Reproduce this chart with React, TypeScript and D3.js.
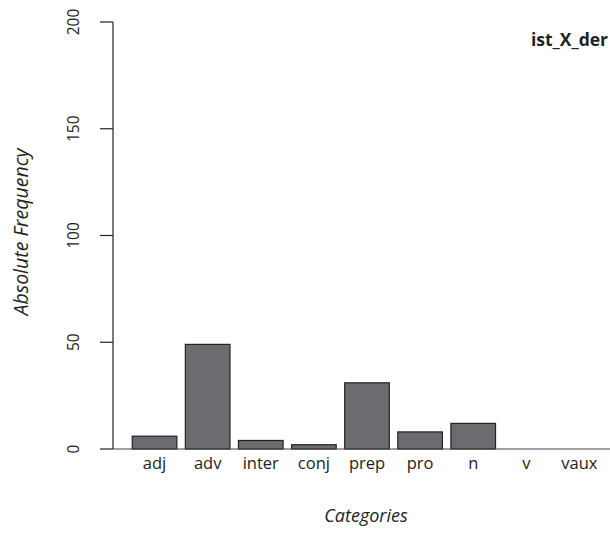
import React from "react";
import * as d3 from "d3";

const categories = ["adj", "adv", "inter", "conj", "prep", "pro", "n", "v", "vaux"];
const values = [6, 49, 4, 2, 31, 8, 12, 0, 0];
const yTicks = [0, 50, 100, 150, 200];
const title = "ist_X_der";

export default function App() {
  const W = 610, H = 556;
  const font = "'Open Sans', 'Noto Sans', sans-serif";
  const x = d3.scaleBand<string>().domain(categories).range([128, 606]).paddingInner(0.16).paddingOuter(0.08);
  const y = d3.scaleLinear().domain([0, 200]).range([449, 22]);
  const axisX = 113;
  return (
    <svg width={W} height={H} style={{ position: "absolute", left: 0, top: 0, background: "#fff" }} fontFamily={font}>
      <line x1={axisX} x2={axisX} y1={y(200)} y2={y(0)} stroke="#222" strokeWidth={1.2} />
      {yTicks.map((t) => (
        <g key={t}>
          <line x1={axisX - 13} x2={axisX} y1={y(t)} y2={y(t)} stroke="#222" strokeWidth={1.2} />
          <text transform={`translate(79,${y(t)}) rotate(-90)`} textAnchor="middle" fontSize={15.5} fill="#222">
            {t}
          </text>
        </g>
      ))}
      {categories.map((c, i) => (
        <rect key={c} x={x(c)} y={y(values[i])} width={x.bandwidth()} height={y(0) - y(values[i])}
          fill="#6b6c70" stroke="#222" strokeWidth={1.2} />
      ))}
      <line x1={axisX} x2={W} y1={y(0)} y2={y(0)} stroke="#444" strokeWidth={1.2} />
      {categories.map((c) => (
        <text key={c} x={(x(c) as number) + x.bandwidth() / 2} y={469} textAnchor="middle" fontSize={16.5} fill="#222">
          {c}
        </text>
      ))}
      <text x={366} y={522} textAnchor="middle" fontSize={18} fontStyle="italic" fill="#222">Categories</text>
      <text transform={`translate(28,232) rotate(-90)`} textAnchor="middle" fontSize={19.5} fontStyle="italic" fill="#222">
        Absolute Frequency
      </text>
      <text x={608} y={46} textAnchor="end" fontSize={17.5} fontWeight="bold" fill="#222">{title}</text>
    </svg>
  );
}
